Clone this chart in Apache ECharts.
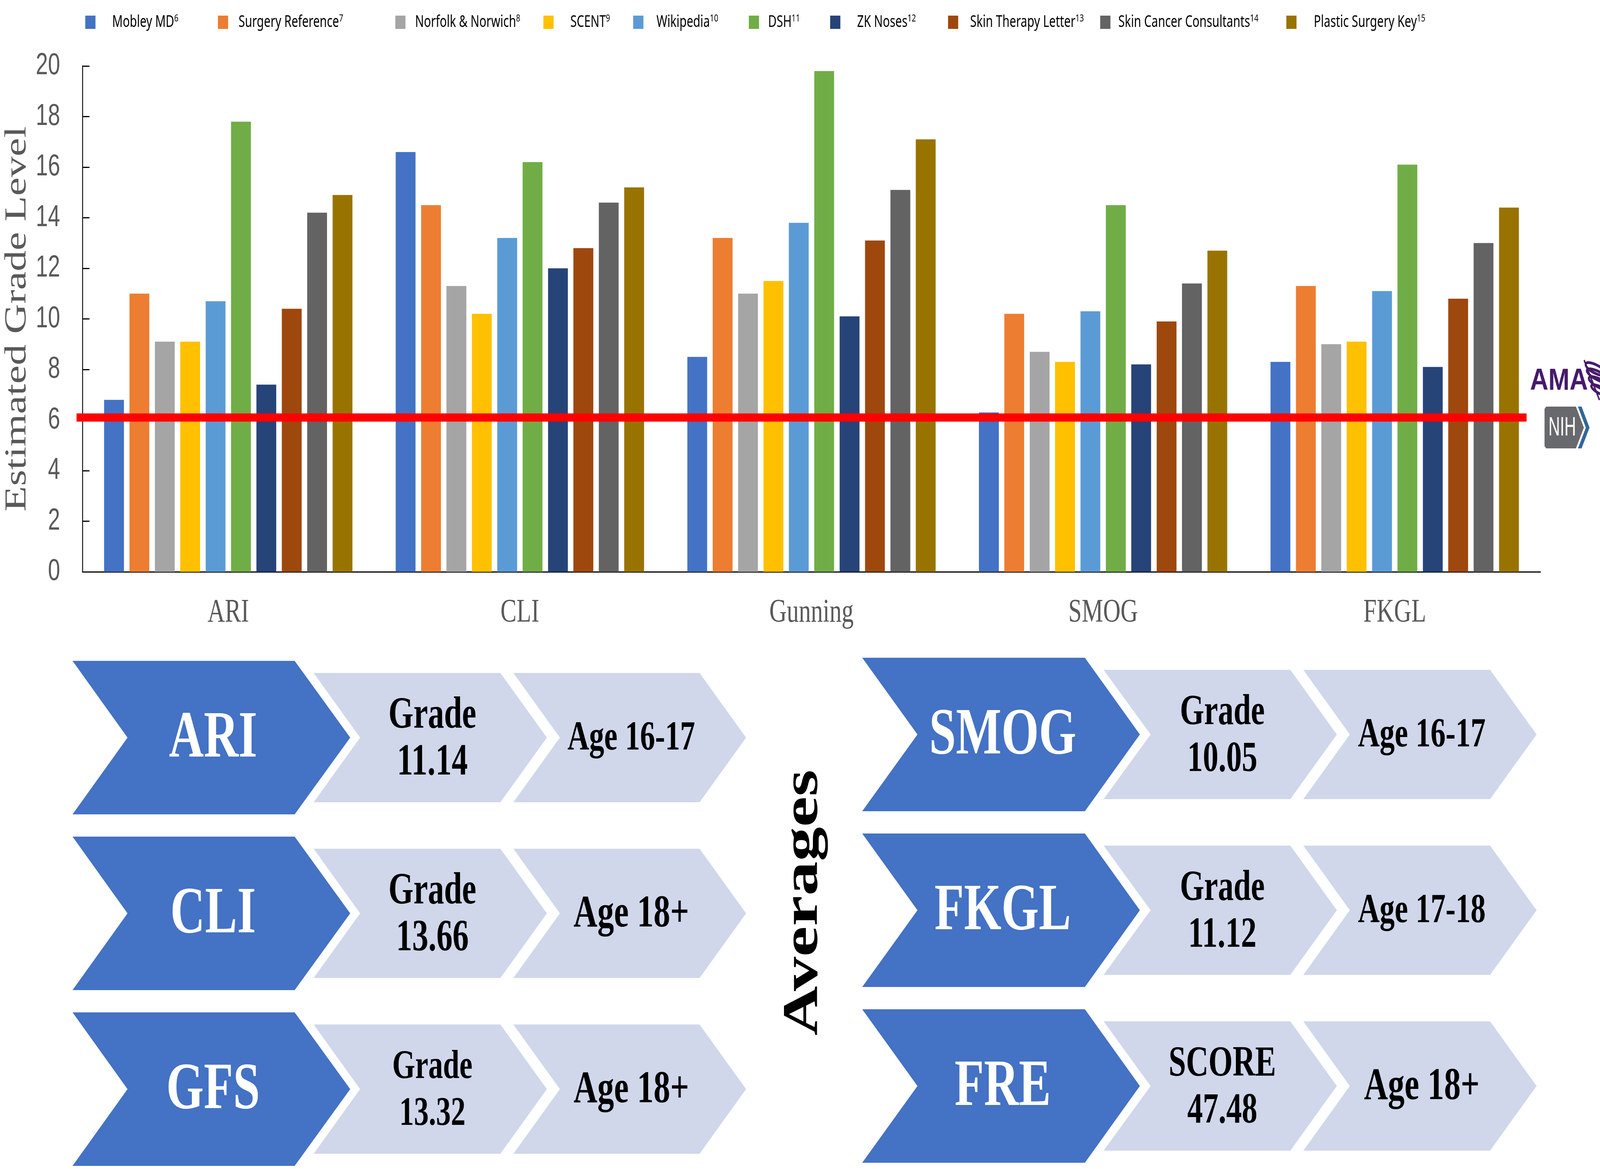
<!DOCTYPE html>
<html><head><meta charset="utf-8">
<style>html,body{margin:0;padding:0;background:#fff;overflow:hidden}#c{width:5647px;height:2993px;transform-origin:0 0}</style>
<script src="https://cdn.jsdelivr.net/npm/echarts@6/dist/echarts.min.js"></script>
</head><body><div id="c"></div>
<script>
const categories = ['ARI','CLI','Gunning','SMOG','FKGL'];
const sourceNames = ['Mobley MD','Surgery Reference','Norfolk & Norwich','SCENT','Wikipedia','DSH','ZK Noses','Skin Therapy Letter','Skin Cancer Consultants','Plastic Surgery Key'];
const sourceRefs = ['6','7','8','9','10','11','12','13','14','15'];
const mobley = [6.8,16.6,8.5,6.3,8.3];
const surgeryRef = [11,14.5,13.2,10.2,11.3];
const norfolk = [9.1,11.3,11,8.7,9];
const scent = [9.1,10.2,11.5,8.3,9.1];
const wikipedia = [10.7,13.2,13.8,10.3,11.1];
const dsh = [17.8,16.2,19.8,14.5,16.1];
const zkNoses = [7.4,12,10.1,8.2,8.1];
const skinTherapy = [10.4,12.8,13.1,9.9,10.8];
const skinCancer = [14.2,14.6,15.1,11.4,13];
const plasticKey = [14.9,15.2,17.1,12.7,14.4];
const seriesValues = [mobley,surgeryRef,norfolk,scent,wikipedia,dsh,zkNoses,skinTherapy,skinCancer,plasticKey];
const recommendedLevel = 6.1;
const yTicks = {min:0,max:20,interval:2};
const leftNames = ['ARI','CLI','GFS'];
const leftResult = [['Grade','11.14'],['Grade','13.66'],['Grade','13.32']];
const leftAge = ['Age 16-17','Age 18+','Age 18+'];
const rightNames = ['SMOG','FKGL','FRE'];
const rightResult = [['Grade','10.05'],['Grade','11.12'],['SCORE','47.48']];
const rightAge = ['Age 16-17','Age 17-18','Age 18+'];

// The window may be narrower than the 5647x2993 design; fit the whole design into it.
const W = 5647, H = 2993;
const box = document.getElementById('c');
box.style.transform = `scale(${window.innerWidth/W},${window.innerHeight/H})`;

// styles and layout
const colors = ['#4472C4','#ED7D31','#A5A5A5','#FFC000','#5B9BD5','#70AD47','#264478','#9E480E','#636363','#997300'];
const legendX = [301,769,1395,1918,2235,2643,2930,3346,3883,4540];
const legendPad = [54,32,29,54,41,27,54,37,23,56];
const SERIF = '"Liberation Serif","Times New Roman",serif';
const SANS = '"Liberation Sans",Arial,sans-serif';
const LEG = '"Noto Sans",sans-serif';
const GREY = '#595959', BIG = '#4472C4', LIGHT = '#D0D7EB';

const G = [];
function chevron(l,n,r,t,top,bot,fill){
  const m=(top+bot)/2;
  G.push({type:'polygon',silent:true,shape:{points:[[l,top],[r,top],[t,m],[r,bot],[l,bot],[n,m]]},style:{fill}});
}
function txt(x,y,s,size,fill,extra){
  G.push(Object.assign({type:'text',silent:true,x,y,z:5,style:{text:s,x:0,y:0,fill,align:'center',verticalAlign:'middle',font:'bold '+size+'px '+SERIF}},extra||{}));
}
const leftCol = {big:[256,450,1040,1236],l1:[1107,1271,1766,1930],l2:[1812,1976,2469,2633],tx:[752,1526,2228]};
const rightCol = {big:[3043,3238,3829,4023],l1:[3895,4061,4554,4718],l2:[4600,4764,5259,5423],tx:[3539,4314,5018]};
function column(col,topY,names,results,ages,sizes){
  [0,1,2].forEach(i=>{
    const top=topY+i*450, mid=top+196.5;
    chevron(...col.big,top,top+393,BIG);
    chevron(...col.l1,top+31,top+362,LIGHT);
    chevron(...col.l2,top+31,top+362,LIGHT);
    txt(col.tx[0],mid+5,names[i],170,'#ffffff');
    const s=sizes.res[i];
    txt(col.tx[1],mid-55,results[i][0],s,'#000');
    txt(col.tx[1],mid+65,results[i][1],s,'#000');
    txt(col.tx[2],mid+3,ages[i],ages[i].length>7?106:117,'#000');
  });
}
column(leftCol,1692,leftNames,leftResult,leftAge,{res:[114,114,104]});
column(rightCol,1684,rightNames,rightResult,rightAge,{res:[110,110,110]});
txt(2838,2311,'Averages',176,'#000',{rotation:Math.PI/2});

// logos
const PURPLE='#461A6B';
G.push({type:'text',silent:true,x:5400,y:976,scaleX:1.15,style:{text:'AMA',x:0,y:0,fill:PURPLE,align:'left',verticalAlign:'middle',font:'bold 78px '+SANS}});
G.push({type:'line',silent:true,shape:{x1:5591,y1:922,x2:5645,y2:1024},style:{stroke:PURPLE,lineWidth:5}});
[[5632,945,38,11],[5640,962,42,11],[5647,982,42,11],[5650,1000,36,9]].forEach(e=>{
  G.push({type:'ellipse',silent:true,x:e[0],y:e[1],rotation:-0.35,shape:{cx:0,cy:0,rx:e[2],ry:e[3]},style:{fill:'none',stroke:PURPLE,lineWidth:7}});
});
G.push({type:'polygon',silent:true,shape:{points:[[5451,1047],[5457,1041],[5562,1041],[5590,1095],[5562,1148],[5457,1148],[5451,1142]]},style:{fill:'#68696C'}});
G.push({type:'polygon',silent:true,shape:{points:[[5569,1041],[5582,1041],[5610,1095],[5582,1148],[5569,1148],[5597,1095]]},style:{fill:'#336699'}});
G.push({type:'text',silent:true,x:5465,y:1096,scaleX:0.83,style:{text:'NIH',x:0,y:0,fill:'#fff',align:'left',verticalAlign:'middle',font:'68px '+SANS}});

const option = {
  animation:false,
  backgroundColor:'#fff',
  grid:{left:291,right:210,top:169,bottom:1529,containLabel:false,outerBoundsMode:'none'},
  legend: sourceNames.map((n,i)=>({
    data:[n],left:legendX[i],top:35,padding:0,itemWidth:36,itemHeight:34,icon:'rect',selectedMode:false,
    formatter:()=>`{t|${n}}{s|${sourceRefs[i]}}`,
    textStyle:{padding:[0,0,0,legendPad[i]],color:'#000',
      rich:{t:{fontFamily:LEG,fontSize:41,color:'#000',lineHeight:44},
            s:{fontFamily:LEG,fontSize:26,color:'#000',verticalAlign:'top',lineHeight:44}}}
  })),
  xAxis:{type:'category',data:categories,
    axisLine:{lineStyle:{color:'#000',width:3}},axisTick:{show:false},
    axisLabel:{fontFamily:SERIF,fontSize:85,color:GREY,margin:63}},
  yAxis:{type:'value',min:yTicks.min,max:yTicks.max,interval:yTicks.interval,
    name:'Estimated Grade Level',nameLocation:'middle',nameGap:167,nameRotate:90,
    nameTextStyle:{fontFamily:SERIF,fontSize:107,color:GREY},
    axisLine:{show:true,lineStyle:{color:'#000',width:3}},
    axisTick:{show:true,inside:true,length:25,lineStyle:{color:'#000',width:3}},
    axisLabel:{fontFamily:SANS,fontSize:77,color:GREY,margin:79},
    splitLine:{show:false}},
  series: sourceNames.map((n,i)=>({
    name:n,type:'bar',data:seriesValues[i],barWidth:70,barGap:'28%',
    itemStyle:{color:colors[i]},emphasis:{disabled:true}
  })).concat([{
    type:'custom',silent:true,clip:false,z:10,data:[[0,recommendedLevel]],
    renderItem:(params,api)=>{
      const y=api.coord([0,api.value(1)])[1], cs=params.coordSys;
      return {type:'line',shape:{x1:cs.x-21,y1:y,x2:cs.x+cs.width-49,y2:y},style:{stroke:'#FF0000',lineWidth:21}};
    }
  }]),
  graphic:G
};
echarts.init(box,null,{width:W,height:H}).setOption(option);
</script></body></html>
